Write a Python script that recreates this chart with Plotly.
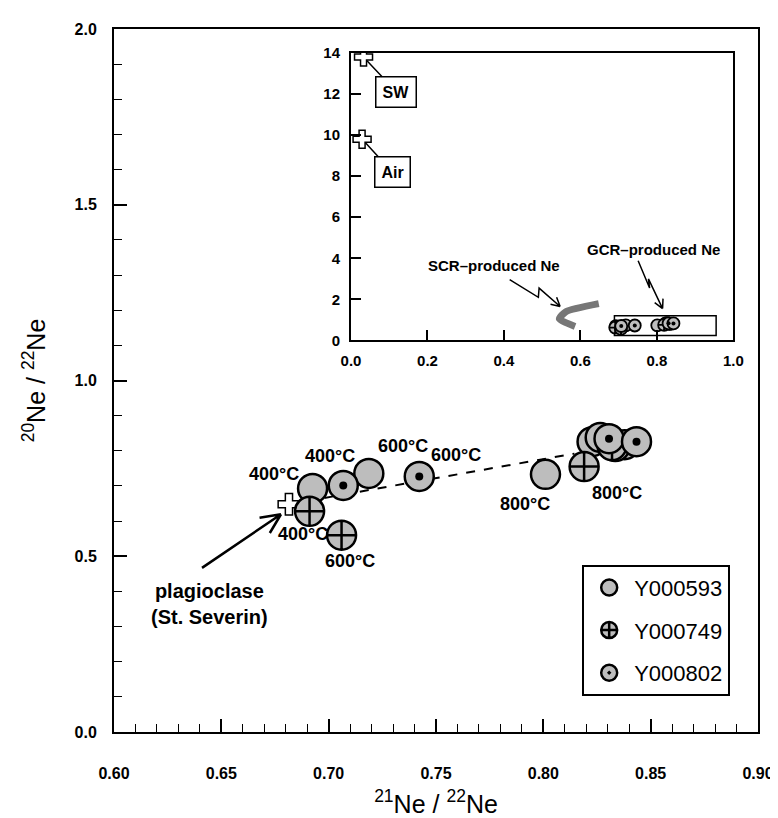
import math
import plotly.graph_objects as go

# ---------------- data ----------------
y593_x = [0.6925, 0.7187, 0.8010, 0.8227, 0.8265, 0.8379, 0.8335]
y593_y = [0.693, 0.7355, 0.733, 0.826, 0.838, 0.8175, 0.812]
y749_x = [0.6911, 0.7060, 0.8190, 0.8320]
y749_y = [0.628, 0.560, 0.755, 0.815]
y802_x = [0.7068, 0.7422, 0.8306, 0.8434]
y802_y = [0.7016, 0.727, 0.8345, 0.826]

plag_x = [0.6815]
plag_y = [0.648]
trend_x = [0.6815, 0.8145]
trend_y = [0.648, 0.792]

temp_labels = ["400°C", "400°C", "400°C", "600°C", "600°C", "600°C", "800°C", "800°C"]
temp_x = [0.6746, 0.7008, 0.6879, 0.7100, 0.7344, 0.7592, 0.7914, 0.8342]
temp_y = [0.733, 0.784, 0.563, 0.487, 0.815, 0.789, 0.648, 0.679]

# inset
ref_names = ["SW", "Air"]
ref_x = [0.0328, 0.029]
ref_y = [13.8, 9.8]
ref_box_x = [0.119, 0.108]
ref_box_y = [12.1, 8.2]

scr_x = [0.648, 0.562, 0.545, 0.586]
scr_y = [1.79, 1.40, 1.05, 0.68]

gcr_box_x = [0.689, 0.955]
gcr_box_y = [0.24, 1.2]

scr_text = "SCR\u2013produced Ne"
gcr_text = "GCR\u2013produced Ne"
scr_text_pos = (0.374, 3.63)
gcr_text_pos = (0.792, 4.41)
scr_zig_x = [0.415, 0.490, 0.492, 0.547]
scr_zig_y = [2.96, 2.10, 2.55, 1.65]
gcr_zig_x = [0.751, 0.781, 0.778, 0.815]
gcr_zig_y = [3.88, 2.55, 3.00, 1.55]

plag_text = "plagioclase<br>(St. Severin)"
plag_text_pos = (0.6446, 0.365)
plag_arrow_x = [0.641, 0.6778]
plag_arrow_y = [0.467, 0.6195]

series_names = ["Y000593", "Y000749", "Y000802"]

# ---------------- styling ----------------
GRAY = "#bdbdbd"
FONT = "Arial, Liberation Sans, sans-serif"
W, H = 778, 818
ML, MR, MT, MB = 106, 20, 21, 91

fig = go.Figure()

# dashed trend line
fig.add_trace(go.Scatter(x=trend_x, y=trend_y, mode="lines",
                         line=dict(color="black", width=2, dash="dash"),
                         showlegend=False, hoverinfo="skip"))
# plagioclase (St. Severin) cross
fig.add_trace(go.Scatter(x=plag_x, y=plag_y, mode="markers",
                         marker=dict(symbol="cross", size=18, color="white",
                                     line=dict(color="black", width=1.5)),
                         showlegend=False))

def add_series(xs, ys, symbol, name, xa, ya, size, lw, legend, dot):
    fig.add_trace(go.Scatter(x=xs, y=ys, mode="markers", name=name,
                             legendgroup=name, showlegend=legend,
                             xaxis=xa, yaxis=ya,
                             marker=dict(symbol=symbol, size=size, color=GRAY,
                                         line=dict(color="black", width=lw))))
    if dot:
        fig.add_trace(go.Scatter(x=xs, y=ys, mode="markers", legendgroup=name,
                                 showlegend=False, xaxis=xa, yaxis=ya,
                                 marker=dict(symbol="circle", size=dot, color="black",
                                             line=dict(width=0))))

# main panel series
add_series(y593_x, y593_y, "circle", series_names[0], "x", "y", 29, 2.5, True, 0)
add_series(y749_x, y749_y, "circle-cross", series_names[1], "x", "y", 29, 2.5, True, 0)
add_series(y802_x, y802_y, "circle-dot", series_names[2], "x", "y", 29, 2.5, True, 8)

# inset series
add_series(y593_x, y593_y, "circle", series_names[0], "x2", "y2", 12, 1.8, False, 0)
add_series(y749_x, y749_y, "circle-cross", series_names[1], "x2", "y2", 12, 1.8, False, 0)
add_series(y802_x, y802_y, "circle", series_names[2], "x2", "y2", 12, 1.8, False, 4)

# SCR curve
fig.add_trace(go.Scatter(x=scr_x, y=scr_y, mode="lines", xaxis="x2", yaxis="y2",
                         line=dict(color="#777777", width=7, shape="spline", smoothing=0.6),
                         showlegend=False, hoverinfo="skip"))
# SW / Air
fig.add_trace(go.Scatter(x=ref_x, y=ref_y, mode="markers", xaxis="x2", yaxis="y2",
                         marker=dict(symbol="cross", size=15, color="white",
                                     line=dict(color="black", width=1.5)),
                         showlegend=False))

# ---------------- helpers for open arrow heads ----------------
main_px = (2173.0, 353.5)   # px per data unit (x, y) main panel
inset_px = (387.5, 20.64)   # px per data unit (x, y) inset

def path_with_head(xs, ys, scale, head=11, ang=28):
    sx, sy = scale
    d = "M %f,%f" % (xs[0], ys[0])
    for xv, yv in zip(xs[1:], ys[1:]):
        d += " L %f,%f" % (xv, yv)
    dx = (xs[-1] - xs[-2]) * sx
    dy = (ys[-1] - ys[-2]) * sy
    a = math.atan2(dy, dx)
    for s in (1, -1):
        b = a + math.pi + s * math.radians(ang)
        hx = xs[-1] + head * math.cos(b) / sx
        hy = ys[-1] + head * math.sin(b) / sy
        d += " M %f,%f L %f,%f" % (xs[-1], ys[-1], hx, hy)
    return d

shapes = [
    dict(type="path", xref="x", yref="y",
         path=path_with_head(plag_arrow_x, plag_arrow_y, main_px, head=22, ang=25),
         line=dict(color="black", width=2.5)),
    dict(type="path", xref="x2", yref="y2",
         path=path_with_head(scr_zig_x, scr_zig_y, inset_px, head=10),
         line=dict(color="black", width=1.5)),
    dict(type="path", xref="x2", yref="y2",
         path=path_with_head(gcr_zig_x, gcr_zig_y, inset_px, head=10),
         line=dict(color="black", width=1.5)),
    dict(type="rect", xref="x2", yref="y2",
         x0=gcr_box_x[0], x1=gcr_box_x[1], y0=gcr_box_y[0], y1=gcr_box_y[1],
         line=dict(color="black", width=1.5), layer="below"),
]

annotations = []
for t, xv, yv in zip(temp_labels, temp_x, temp_y):
    annotations.append(dict(x=xv, y=yv, xref="x", yref="y", text=t, showarrow=False,
                            font=dict(family=FONT, size=18, color="black", weight="bold")))
annotations.append(dict(x=plag_text_pos[0], y=plag_text_pos[1], xref="x", yref="y",
                        text=plag_text, showarrow=False,
                        font=dict(family=FONT, size=20, color="black", weight="bold")))
for nm, xv, yv, bx, by in zip(ref_names, ref_x, ref_y, ref_box_x, ref_box_y):
    annotations.append(dict(x=xv, y=yv, xref="x2", yref="y2", ax=bx, ay=by,
                            axref="x2", ayref="y2", text=nm, showarrow=True,
                            arrowhead=0, arrowwidth=1.5, arrowcolor="black",
                            standoff=5, bordercolor="black", borderwidth=1.5,
                            borderpad=6, bgcolor="white",
                            font=dict(family=FONT, size=16, color="black", weight="bold")))
annotations.append(dict(x=scr_text_pos[0], y=scr_text_pos[1], xref="x2", yref="y2",
                        text=scr_text, showarrow=False,
                        font=dict(family=FONT, size=15, color="black", weight="bold")))
annotations.append(dict(x=gcr_text_pos[0], y=gcr_text_pos[1], xref="x2", yref="y2",
                        text=gcr_text, showarrow=False,
                        font=dict(family=FONT, size=15, color="black", weight="bold")))

tickfont = dict(family=FONT, size=16, color="black", weight="bold")
axis_common = dict(showline=True, linecolor="black", linewidth=2, mirror=True,
                   showgrid=False, zeroline=False, ticks="inside", tickcolor="black")

fig.update_layout(
    width=W, height=H,
    margin=dict(l=ML, r=MR, t=MT, b=MB),
    paper_bgcolor="white", plot_bgcolor="white",
    font=dict(family=FONT, color="black"),
    xaxis=dict(range=[0.6, 0.9], dtick=0.05, tick0=0.6, tickformat=".2f",
               ticklen=13, tickwidth=1.5, tickfont=tickfont, ticklabelstandoff=26,
               minor=dict(dtick=0.01, ticks="inside", ticklen=8, tickwidth=1.2,
                          tickcolor="black"),
               title=dict(text="<sup>21</sup>Ne / <sup>22</sup>Ne",
                          font=dict(family=FONT, size=25, color="black"), standoff=14),
               **axis_common),
    yaxis=dict(range=[0, 2], dtick=0.5, tick0=0, tickformat=".1f",
               ticklen=13, tickwidth=1.5, tickfont=tickfont, ticklabelstandoff=12,
               minor=dict(dtick=0.1, ticks="inside", ticklen=8, tickwidth=1.2,
                          tickcolor="black"),
               title=dict(text="<sup>20</sup>Ne / <sup>22</sup>Ne",
                          font=dict(family=FONT, size=25, color="black"), standoff=22),
               **axis_common),
    xaxis2=dict(domain=[0.368, 0.9617], anchor="y2", range=[0, 1], dtick=0.2,
                tick0=0, tickformat=".1f", ticklen=10, tickwidth=1.5,
                tickfont=dict(family=FONT, size=15, color="black", weight="bold"),
                ticklabelstandoff=6, **axis_common),
    yaxis2=dict(domain=[0.557, 0.966], anchor="x2", range=[0, 14], dtick=2,
                tick0=0, ticklen=10, tickwidth=1.5,
                tickfont=dict(family=FONT, size=15, color="black", weight="bold"),
                ticklabelstandoff=6, **axis_common),
    legend=dict(x=0.727, y=0.238, xanchor="left", yanchor="top",
                bgcolor="white", bordercolor="black", borderwidth=2,
                font=dict(family=FONT, size=22, color="black"),
                traceorder="grouped", tracegroupgap=11, itemwidth=40),
    shapes=shapes,
    annotations=annotations,
)

fig.write_html("out.html")
